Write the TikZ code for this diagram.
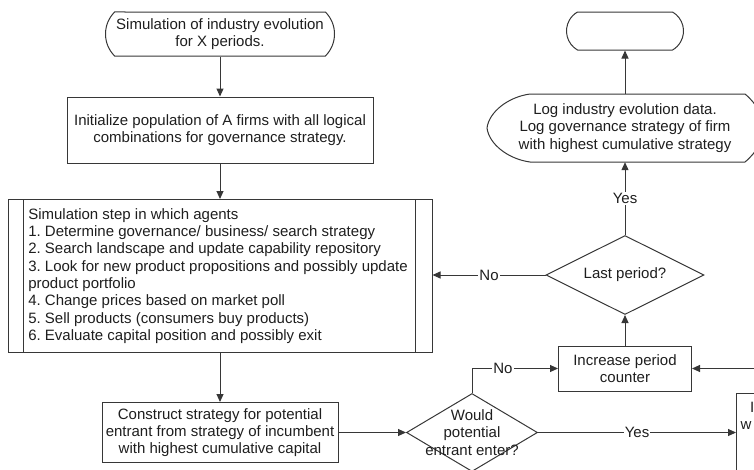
\documentclass[tikz,border=0pt]{standalone}
\usepackage{fontspec}
\setmainfont{Liberation Sans}
\usetikzlibrary{arrows.meta,shapes.geometric,shapes.misc,calc}
\definecolor{ln}{RGB}{55,55,55}
\definecolor{txt}{RGB}{30,30,30}
\frenchspacing
\begin{document}
\begin{tikzpicture}[x=1pt,y=-1pt,
  every node/.style={font=\fontsize{15}{17.3}\selectfont, text=txt},
  box/.style={draw=ln, line width=1pt, rectangle, inner sep=0pt, align=center},
  term/.style={draw=ln, line width=1pt, rounded rectangle, inner sep=0pt, align=center},
  dia/.style={draw=ln, line width=1pt, diamond, inner sep=0pt},
  conn/.style={draw=ln, line width=1pt, -{Triangle[length=8pt,width=7pt]}},
  lbl/.style={fill=white, inner sep=1pt}
]
\useasboundingbox (0,0) rectangle (754,469);
\clip (0,0) rectangle (754,469);

% left column
\node[term, rounded rectangle arc length=90, minimum width=229pt, minimum height=44pt] (start) at (220,34)
  {Simulation of industry evolution\\for X periods.};
\node[box, minimum width=306pt, minimum height=66pt] (init) at (220,130)
  {Initialize population of A firms with all logical\\combinations for governance strategy.};
\node[box, minimum width=424pt, minimum height=153pt] (sim) at (220,276) {};
\node[align=left, inner sep=0pt, xshift=-2pt] (simtxt) at (sim.center)
  {Simulation step in which agents\\
   1. Determine governance/ business/ search strategy\\
   2. Search landscape and update capability repository\\
   3. Look for new product propositions and possibly update\\
   product portfolio\\
   4. Change prices based on market poll\\
   5. Sell products (consumers buy products)\\
   6. Evaluate capital position and possibly exit};
\draw[ln, line width=1pt] ([xshift=16pt]sim.north west) -- ([xshift=16pt]sim.south west);
\draw[ln, line width=1pt] ([xshift=-17pt]sim.north east) -- ([xshift=-17pt]sim.south east);
\node[box, minimum width=236pt, minimum height=60pt] (cons) at (220,432.5)
  {Construct strategy for potential\\entrant from strategy of incumbent\\with highest cumulative capital};

% decision: would potential entrant enter
\node[dia, minimum width=131pt, minimum height=78pt] (would) at (472,432.5) {};
\node[align=center, inner sep=0pt] (wouldt) at (would.center) {Would\\potential\\entrant enter?};

% right column
\node[term, rounded rectangle arc length=120, minimum width=117pt, minimum height=38pt] (end) at (625,31) {};
\node[minimum width=276pt, minimum height=68pt, inner sep=0pt, align=center] (log) at (625,128)
  {Log industry evolution data.\\Log governance strategy of firm\\with highest cumulative strategy};
\draw[ln, line width=1pt]
  ($(log.center)+(-95,-34)$) -- ($(log.center)+(120,-34)$)
  .. controls ($(log.center)+(132,-24)$) and ($(log.center)+(138,-12)$) .. ($(log.center)+(138,0)$)
  .. controls ($(log.center)+(138,12)$) and ($(log.center)+(132,24)$) .. ($(log.center)+(120,34)$)
  -- ($(log.center)+(-95,34)$)
  .. controls ($(log.center)+(-117,31)$) and ($(log.center)+(-136,16)$) .. ($(log.center)+(-138,0)$)
  .. controls ($(log.center)+(-136,-16)$) and ($(log.center)+(-117,-31)$) .. cycle;
\node[dia, minimum width=158pt, minimum height=79pt] (last) at (625,275) {};
\node[inner sep=0pt] (lastt) at (last.center) {Last period?};
\node[box, minimum width=133pt, minimum height=45pt] (inc) at (625,368.5) {Increase period\\counter};
\node[box, minimum width=200pt, minimum height=120pt, anchor=north west] (rbox) at (736,393) {};
\node[anchor=base west, inner sep=0pt] (r1) at (750,412.5) {I};
\node[anchor=base west, inner sep=0pt] (r2) at (740.5,429.5) {w};
\coordinate (rin) at (790,368.5);

% connectors
\draw[conn] (start.south) -- (init.north);
\draw[conn] (init.south) -- (sim.north);
\draw[conn] (sim.south) -- (cons.north);
\draw[conn] (cons.east) -- (would.west);
\draw[conn] (would.east) -- node[lbl] {Yes} (would.east -| rbox.west);
\draw[conn] (would.north) |- node[lbl, pos=0.68] {No} (inc.west);
\draw[conn] (rin) -- (inc.east);
\draw[conn] (inc.north) -- (last.south);
\draw[conn] (last.west) -- node[lbl] {No} (last.west -| sim.east);
\draw[conn] (last.north) -- node[lbl] {Yes} (log.south);
\draw[conn] (log.north) -- (end.south);
\end{tikzpicture}
\end{document}
